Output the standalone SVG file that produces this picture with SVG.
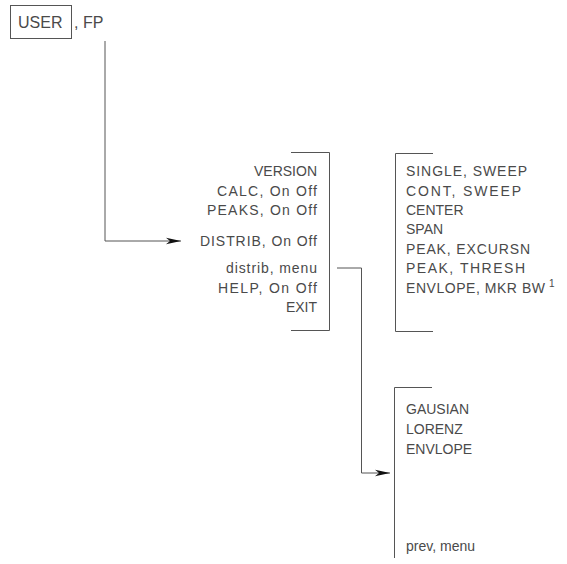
<svg xmlns="http://www.w3.org/2000/svg" width="567" height="564" viewBox="0 0 567 564">
<defs>
<style>
.t{font-family:"Liberation Sans",Arial,sans-serif;font-size:14px;fill:#4a4a4a}
.e{text-anchor:end}
.big{font-size:16px}
.sup{font-size:10px}
.ln{fill:none;stroke:#555;stroke-width:1}
</style>
<marker id="ah" markerUnits="userSpaceOnUse" markerWidth="16" markerHeight="8" refX="15" refY="4" orient="auto">
<path d="M0,0.8 L15,4 L0,7.2 L4,4 Z" fill="#111"/>
</marker>
</defs>
<rect width="567" height="564" fill="#fff"/>
<g id="user">
<rect x="10.5" y="5.5" width="61" height="33" class="ln"/>
<text x="18" y="28" class="t big">USER</text>
<text x="74" y="28" class="t big">, FP</text>
</g>
<g id="connectors">
<path d="M105,41 V241 H181" class="ln" marker-end="url(#ah)"/>
<path d="M337,268 H361.5 V473 H390" class="ln" marker-end="url(#ah)"/>
</g>
<g id="main-menu">
<path d="M291,152.5 H329.5 V330.5 H291" class="ln"/>
<text x="317" y="176" class="t e">VERSION</text>
<text x="317" y="196" class="t e" textLength="100" lengthAdjust="spacing">CALC, On Off</text>
<text x="317" y="215" class="t e" textLength="110" lengthAdjust="spacing">PEAKS, On Off</text>
<text x="317" y="246" class="t e" textLength="117" lengthAdjust="spacing">DISTRIB, On Off</text>
<text x="317" y="273" class="t e" textLength="91" lengthAdjust="spacing">distrib, menu</text>
<text x="317" y="293" class="t e" textLength="99" lengthAdjust="spacing">HELP, On Off</text>
<text x="317" y="312" class="t e">EXIT</text>
</g>
<g id="sweep-menu">
<path d="M433,153.5 H395.5 V331.5 H433" class="ln"/>
<text x="406" y="176" class="t" textLength="121" lengthAdjust="spacing">SINGLE, SWEEP</text>
<text x="406" y="196" class="t" textLength="115" lengthAdjust="spacing">CONT, SWEEP</text>
<text x="406" y="215" class="t">CENTER</text>
<text x="406" y="234" class="t">SPAN</text>
<text x="406" y="254" class="t" textLength="124" lengthAdjust="spacing">PEAK, EXCURSN</text>
<text x="406" y="273" class="t" textLength="119" lengthAdjust="spacing">PEAK, THRESH</text>
<text x="406" y="293" class="t" textLength="139" lengthAdjust="spacing">ENVLOPE, MKR BW</text>
<text x="549" y="287" class="t sup">1</text>
</g>
<g id="distrib-menu">
<path d="M432,387.5 H394.5 V558" class="ln"/>
<text x="406" y="414" class="t">GAUSIAN</text>
<text x="406" y="434" class="t">LORENZ</text>
<text x="406" y="454" class="t">ENVLOPE</text>
<text x="406" y="551" class="t">prev, menu</text>
</g>
</svg>
